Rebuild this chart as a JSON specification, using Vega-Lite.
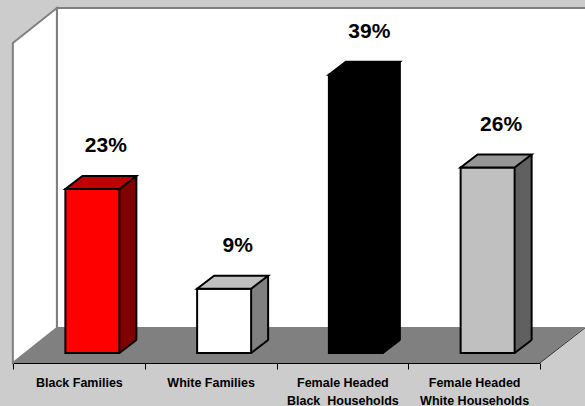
{
  "$schema": "https://vega.github.io/schema/vega-lite/v6.json",
  "width": 527,
  "height": 321,
  "autosize": {"type": "none"},
  "padding": {"left": 13, "top": 32, "right": 45, "bottom": 53},
  "background": "#cccccc",
  "config": {"view": {"stroke": null}},
  "data": {"values": [
    {"category": "Black Families", "value": 0.23},
    {"category": "White Families", "value": 0.09},
    {"category": "Female Headed Black Households", "value": 0.39},
    {"category": "Female Headed White Households", "value": 0.26}
  ]},
  "resolve": {"scale": {"fill": "independent"}},
  "layer": [
    {
      "transform": [{"filter": "datum.category == 'Black Families'"}],
      "mark": {"type": "point", "filled": true, "opacity": 1, "size": 4, "shape": "M-22,-345 L512,-345 L512,-25 L-22,-25 Z", "fill": "#ffffff", "stroke": "#808080", "strokeWidth": 2},
      "encoding": {
        "x": {"field": "category", "type": "nominal", "sort": null, "scale": {"paddingInner": 0, "paddingOuter": 0},
          "axis": {"title": null, "labelAngle": 0, "labelFont": "Liberation Sans", "labelFontWeight": "bold", "labelFontSize": 12.5, "labelColor": "#000000", "labelPadding": 7, "labelLineHeight": 18, "domainColor": "#000000", "domainWidth": 1, "tickColor": "#000000", "tickSize": 6, "tickBand": "extent", "offset": 10,
            "labelExpr": "datum.label == 'Female Headed Black Households' ? ['Female Headed', 'Black\u00a0 Households'] : datum.label == 'Female Headed White Households' ? ['Female Headed', 'White Households'] : datum.label"}},
        "y": {"datum": 0, "type": "quantitative", "scale": {"domain": [0, 0.45], "nice": false}, "axis": null}
      }
    },
    {
      "transform": [{"filter": "datum.category == 'Black Families'"}],
      "mark": {"type": "point", "filled": true, "opacity": 1, "size": 4, "shape": "M-66,-310 L-22,-345 L-22,-25 L-66,10 Z", "fill": "#ffffff", "stroke": "#808080", "strokeWidth": 2},
      "encoding": {
        "x": {"field": "category", "type": "nominal", "sort": null},
        "y": {"datum": 0, "type": "quantitative"}
      }
    },
    {
      "transform": [{"filter": "datum.category == 'Black Families'"}],
      "mark": {"type": "point", "filled": true, "opacity": 1, "size": 4, "shape": "M-66,10 L-22,-25 L512,-25 L512,-30 L590,-30 L590,40 L461,10 Z", "fill": "#808080", "strokeWidth": 0},
      "encoding": {
        "x": {"field": "category", "type": "nominal", "sort": null},
        "y": {"datum": 0, "type": "quantitative"}
      }
    },
    {
      "transform": [{"filter": "datum.category == 'Black Families'"}],
      "mark": {"type": "point", "filled": true, "opacity": 1, "size": 4, "shape": "M461,10 L520,-37 L520,40 Z", "fill": "#cccccc", "strokeWidth": 0},
      "encoding": {
        "x": {"field": "category", "type": "nominal", "sort": null},
        "y": {"datum": 0, "type": "quantitative"}
      }
    },
    {
      "transform": [{"filter": "datum.category == 'Black Families'"}],
      "mark": {"type": "point", "filled": false, "opacity": 1, "size": 4, "shape": "M461,10 L506,-25", "stroke": "#333333", "strokeWidth": 1},
      "encoding": {
        "x": {"field": "category", "type": "nominal", "sort": null},
        "y": {"datum": 0, "type": "quantitative"}
      }
    },
    {
      "mark": {"type": "bar", "width": 17, "xOffset": 49, "yOffset": -13, "strokeWidth": 0},
      "encoding": {
        "x": {"field": "category", "type": "nominal", "sort": null},
        "y": {"field": "value", "type": "quantitative", "stack": null},
        "y2": {"datum": 0},
        "fill": {"field": "category", "type": "nominal", "legend": null,
          "scale": {"domain": ["Black Families", "White Families", "Female Headed Black Households", "Female Headed White Households"], "range": ["#800000", "#808080", "#000000", "#606060"]}}
      }
    },
    {
      "mark": {"type": "point", "filled": true, "opacity": 1, "size": 4, "shape": "M40.5,0 L40.5,-13.5 L57.5,-13.5 L57.5,-13 Z", "strokeWidth": 0},
      "encoding": {
        "x": {"field": "category", "type": "nominal", "sort": null},
        "y": {"datum": 0, "type": "quantitative"},
        "fill": {"field": "category", "type": "nominal", "legend": null,
          "scale": {"domain": ["Black Families", "White Families", "Female Headed Black Households", "Female Headed White Households"], "range": ["#800000", "#808080", "#000000", "#606060"]}}
      }
    },
    {
      "mark": {"type": "bar", "width": 54, "xOffset": 13.5, "stroke": "#000000", "strokeWidth": 2},
      "encoding": {
        "x": {"field": "category", "type": "nominal", "sort": null},
        "y": {"field": "value", "type": "quantitative", "stack": null},
        "fill": {"field": "category", "type": "nominal", "legend": null,
          "scale": {"domain": ["Black Families", "White Families", "Female Headed Black Households", "Female Headed White Households"], "range": ["#ff0000", "#ffffff", "#000000", "#c0c0c0"]}}
      }
    },
    {
      "mark": {"type": "point", "filled": true, "opacity": 1, "size": 4, "shape": "M-13.5,0 L40.5,0 L57.5,-13 L3.5,-13 Z", "stroke": "#000000", "strokeWidth": 2},
      "encoding": {
        "x": {"field": "category", "type": "nominal", "sort": null},
        "y": {"field": "value", "type": "quantitative"},
        "fill": {"field": "category", "type": "nominal", "legend": null,
          "scale": {"domain": ["Black Families", "White Families", "Female Headed Black Households", "Female Headed White Households"], "range": ["#c00000", "#c0c0c0", "#000000", "#969696"]}}
      }
    },
    {
      "mark": {"type": "rule", "xOffset": 57.5, "yOffset": -13, "color": "#000000", "strokeWidth": 2},
      "encoding": {
        "x": {"field": "category", "type": "nominal", "sort": null},
        "y": {"field": "value", "type": "quantitative"},
        "y2": {"datum": 0}
      }
    },
    {
      "mark": {"type": "point", "filled": true, "opacity": 1, "size": 4, "shape": "M41.5,0 L58.5,-13 L59.5,-13 L59.5,1.5 L41.5,1.5 Z", "fill": "#808080", "strokeWidth": 0},
      "encoding": {
        "x": {"field": "category", "type": "nominal", "sort": null},
        "y": {"datum": 0, "type": "quantitative"}
      }
    },
    {
      "mark": {"type": "point", "filled": false, "opacity": 1, "size": 4, "shape": "M40.5,0 L57.5,-13", "stroke": "#000000", "strokeWidth": 2},
      "encoding": {
        "x": {"field": "category", "type": "nominal", "sort": null},
        "y": {"datum": 0, "type": "quantitative"}
      }
    },
    {
      "mark": {"type": "text", "font": "Liberation Sans", "fontWeight": "bold", "fontSize": 21, "color": "#000000", "baseline": "alphabetic", "align": "center", "xOffset": 27, "yOffset": -37},
      "encoding": {
        "x": {"field": "category", "type": "nominal", "sort": null},
        "y": {"field": "value", "type": "quantitative"},
        "text": {"field": "value", "type": "quantitative", "format": ".0%"}
      }
    }
  ]
}
